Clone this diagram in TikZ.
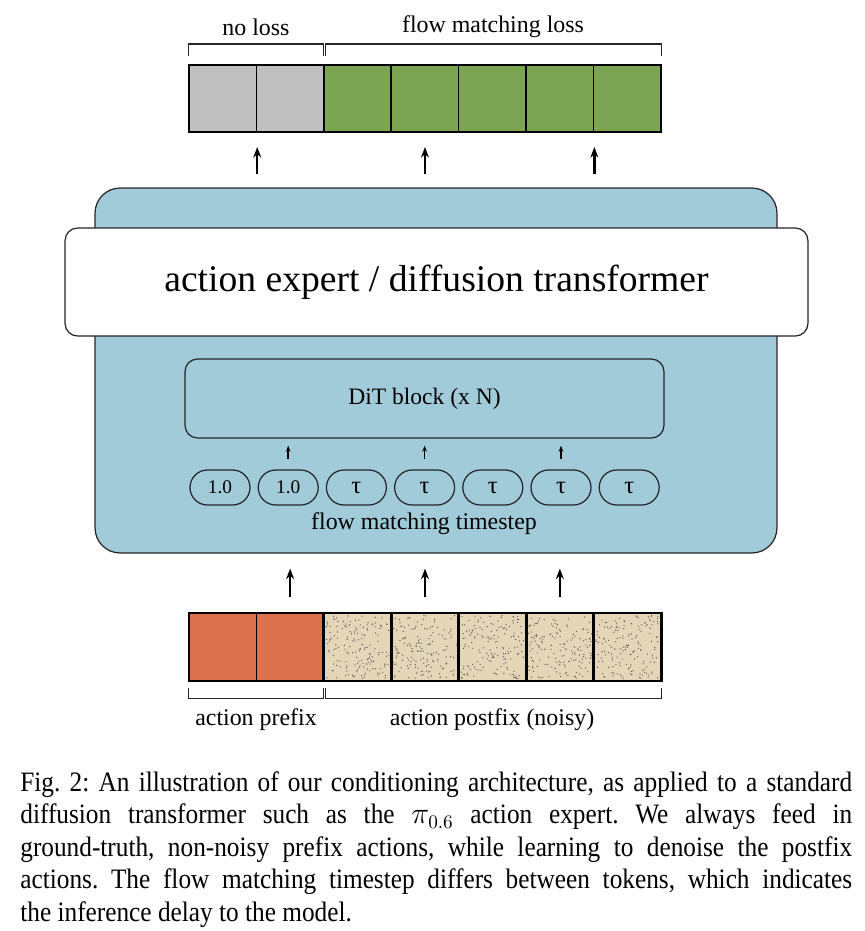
\documentclass[tikz,border=0pt]{standalone}
\usepackage{fontspec}
\setmainfont{Liberation Serif}
\newfontfamily\capfont[FakeStretch=0.9]{Liberation Serif}
\usepackage{tikz}
\usetikzlibrary{
    calc,
    arrows.meta,
    positioning
}
\definecolor{lossgray}{HTML}{C0C0C0}
\definecolor{lossgreen}{HTML}{7BA453}
\definecolor{prefixorange}{HTML}{DB744E}
\definecolor{noisybeige}{HTML}{E6D6B8}
\definecolor{expertblue}{HTML}{A2CBDA}

\begin{document}
\begin{tikzpicture}[
            x=0.02cm, y=-0.02cm,
            token/.style={draw=black, line width=0.9pt, minimum width=1.349cm, minimum height=1.35cm, inner sep=0pt, fill=#1},
            expert box/.style={draw=black!85, line width=0.7pt, fill=#1},
            timestep/.style={draw=black!85, line width=0.7pt, rounded corners=0.35cm, minimum width=1.2cm, minimum height=0.7cm, inner sep=0pt, font=\fontsize{11}{13}\selectfont},
            arr/.style={-{Stealth[length=#1]}, line width=1.3pt},
            brace/.style={draw=black!85, line width=0.7pt},
            label/.style={font=\fontsize{13.6}{16}\selectfont, inner sep=0pt}
        ]
        \useasboundingbox (0,0) rectangle (865,931);

        % output tokens
        \foreach \i/\c in {1/lossgray, 2/lossgray, 3/lossgreen, 4/lossgreen, 5/lossgreen, 6/lossgreen, 7/lossgreen} {
            \node[token=\c] (out\i) at ({222.7+67.43*(\i-1)}, 98.5) {};
        }
        \draw[brace] ([yshift=0.16cm]out1.north west) -- ++(0,-12) -| ([xshift=-0.03cm, yshift=0.16cm]out2.north east);
        \draw[brace] ([xshift=0.05cm, yshift=0.16cm]out3.north west) -- ++(0,-12) -| ([yshift=0.16cm]out7.north east);
        \node[label] (noloss) at (256, 27) {no loss};
        \node[label] (fmloss) at (493, 27) {flow matching loss};

        % action expert
        \node[expert box=expertblue, rounded corners=0.5cm, minimum width=13.64cm, minimum height=7.3cm] (expert) at (436, 370.5) {};
        \node[expert box=white, rounded corners=0.25cm, minimum width=14.86cm, minimum height=2.16cm, font=\fontsize{21.4}{25}\selectfont] (head) at (436.5, 282) {action expert / diffusion transformer};
        \node[expert box=expertblue, rounded corners=0.25cm, minimum width=9.58cm, minimum height=1.58cm, font=\fontsize{13.4}{16}\selectfont] (dit) at (424.5, 398.5) {DiT block (x N)};

        % timesteps
        \foreach \i/\t in {1/1.0, 2/1.0, 3/{\fontsize{14}{16}\selectfont τ}, 4/{\fontsize{14}{16}\selectfont τ}, 5/{\fontsize{14}{16}\selectfont τ}, 6/{\fontsize{14}{16}\selectfont τ}, 7/{\fontsize{14}{16}\selectfont τ}} {
            \node[timestep] (ts\i) at ({220+68.2*(\i-1)}, 487.5) {\t};
        }
        \node[label] (tslabel) at (424, 524) {flow matching timestep};
        \foreach \i in {2,4,6} {
            \draw[arr=3.5pt, line width=0.8pt, shorten <=0.2cm, shorten >=0.14cm] (ts\i.north) -- (ts\i.north |- dit.south);
        }

        % input tokens
        \foreach \i/\c in {1/prefixorange, 2/prefixorange, 3/noisybeige, 4/noisybeige, 5/noisybeige, 6/noisybeige, 7/noisybeige} {
            \node[token=\c] (in\i) at ({222.7+67.43*(\i-1)}, 647) {};
        }
        \pgfmathsetseed{42}
        \foreach \i in {3,...,7} {
            \begin{scope}[shift={(in\i.center)}]
                \foreach \k in {1,...,160} {
                    \fill[black!65] ({31.5*rand}, {31.5*rand}) circle (0.38pt);
                }
            \end{scope}
            \draw[line width=0.9pt] (in\i.north west) rectangle (in\i.south east);
        }
        \draw[brace] ([yshift=-0.12cm]in1.south west) -- ++(0,11) -| ([xshift=-0.03cm, yshift=-0.12cm]in2.south east);
        \draw[brace] ([xshift=0.05cm, yshift=-0.12cm]in3.south west) -- ++(0,11) -| ([yshift=-0.12cm]in7.south east);
        \node[label] (prefix) at (256, 720) {action prefix};
        \node[label] (postfix) at (492, 720) {action postfix (noisy)};

        % arrows
        \draw[arr=6pt, shorten <=0.26cm, shorten >=0.28cm] (out1.south east |- expert.north) -- (out1.south east);
        \draw[arr=6pt, shorten <=0.26cm, shorten >=0.28cm] (out4.south |- expert.north) -- (out4.south);
        \draw[arr=6pt, shorten <=0.26cm, shorten >=0.28cm] (out6.south east |- expert.north) -- (out6.south east);
        \foreach \i in {2,4,6} {
            \draw[arr=6pt, shorten <=0.3cm, shorten >=0.3cm] (in\i.north) -- (in\i.north |- expert.south);
        }

        % caption
        \node[anchor=north west, inner sep=0pt, text width=16.64cm, align=justify, font=\capfont\fontsize{16}{18.5}\selectfont\frenchspacing] (caption) at (20, 771)
            {Fig. 2: An illustration of our conditioning architecture, as applied to a standard\linebreak diffusion transformer such as the $\pi_{0.6}$ action expert. We always feed in\linebreak ground-truth, non-noisy prefix actions, while learning to denoise the postfix\linebreak actions. The flow matching timestep differs between tokens, which indicates\linebreak the inference delay to the model.};
    \end{tikzpicture}
\end{document}
